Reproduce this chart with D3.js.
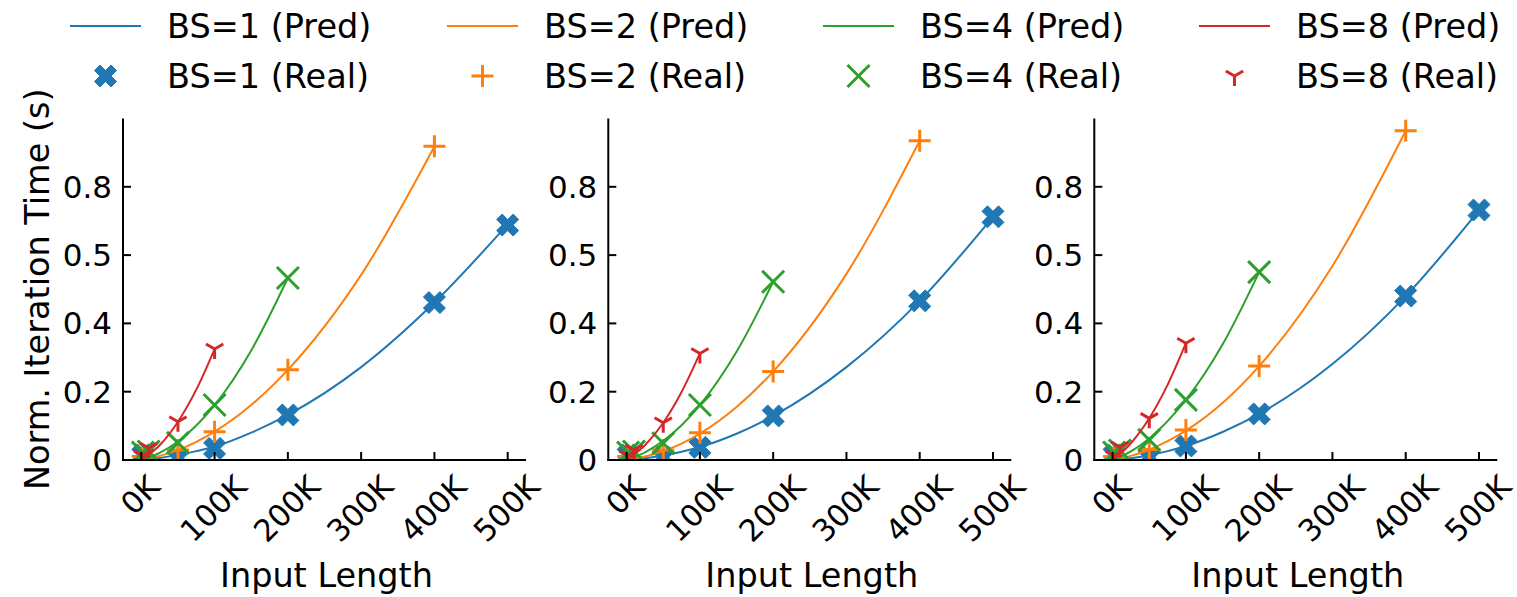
<!DOCTYPE html>
<html>
<head>
<meta charset="utf-8">
<script src="https://cdn.jsdelivr.net/npm/d3@7"></script>
<style>
  html, body { margin: 0; padding: 0; background: #fff; }
  svg { display: block; font-family: "DejaVu Sans", sans-serif; }
</style>
</head>
<body>
<svg id="chart" width="1517" height="597"></svg>
<script>
// ---- data ----
const batchSizes = [1, 2, 4, 8];
const colors = ["#1f77b4", "#ff7f0e", "#2ca02c", "#d62728"];
const markerKinds = ["Xfilled", "plus", "x", "tri"];

const xTicks = [0, 100, 200, 300, 400, 500];            // input length, K tokens
const xTickLabels = ["0K", "100K", "200K", "300K", "400K", "500K"];
const yTicks = [0, 0.2, 0.4, 0.6, 0.8];
const yTickLabels = ["0", "0.2", "0.4", "0.5", "0.8"];

// measured input lengths (K) per batch size
const realX = [
  [2, 50, 100, 200, 400, 500],
  [2, 50, 100, 200, 400],
  [2, 10, 50, 100, 200],
  [2, 10, 50, 100]
];
// predicted curve sample points (K)
const predX = [0, 25, 50, 75, 100, 150, 200, 300, 400, 500];

// measured times: [panel][batch]
const realPanel1 = [
  [0.015, 0.006, 0.034, 0.132, 0.461, 0.688],
  [0.010, 0.029, 0.083, 0.264, 0.919],
  [0.022, 0.025, 0.050, 0.161, 0.533],
  [0.012, 0.035, 0.112, 0.325]
];
const realPanel2 = [
  [0.015, 0.008, 0.037, 0.129, 0.466, 0.712],
  [0.010, 0.029, 0.080, 0.259, 0.935],
  [0.022, 0.025, 0.049, 0.161, 0.522],
  [0.012, 0.029, 0.109, 0.312]
];
const realPanel3 = [
  [0.015, 0.008, 0.041, 0.135, 0.480, 0.732],
  [0.010, 0.031, 0.088, 0.275, 0.964],
  [0.022, 0.028, 0.059, 0.176, 0.550],
  [0.012, 0.038, 0.122, 0.342]
];
// predicted times at predX: [panel][batch]
const predPanel1 = [
  [0, 0.006, 0.015, 0.026, 0.039, 0.080, 0.132, 0.272, 0.461, 0.690],
  [0, 0.012, 0.029, 0.053, 0.083, 0.161, 0.264, 0.542, 0.918],
  [0, 0.021, 0.054, 0.101, 0.161, 0.321, 0.533],
  [0, 0.043, 0.112, 0.206, 0.325]
];
const predPanel2 = [
  [0, 0.005, 0.013, 0.024, 0.038, 0.077, 0.129, 0.272, 0.466, 0.712],
  [0, 0.010, 0.026, 0.048, 0.077, 0.155, 0.259, 0.545, 0.935],
  [0, 0.022, 0.056, 0.102, 0.161, 0.317, 0.522],
  [0, 0.043, 0.109, 0.199, 0.312]
];
const predPanel3 = [
  [0, 0.005, 0.014, 0.026, 0.041, 0.082, 0.135, 0.281, 0.480, 0.731],
  [0, 0.012, 0.030, 0.055, 0.086, 0.167, 0.275, 0.568, 0.964],
  [0, 0.025, 0.063, 0.114, 0.176, 0.338, 0.550],
  [0, 0.049, 0.122, 0.220, 0.342]
];

const panels = [
  { left: 123,   real: realPanel1, pred: predPanel1 },
  { left: 608.3, real: realPanel2, pred: predPanel2 },
  { left: 1094.3, real: realPanel3, pred: predPanel3 }
];

// ---- layout ----
const svg = d3.select("#chart");
const plotTop = 118.5, plotBottom = 460, plotWidth = 403;
const tickFont = 30.5, labelFont = 33.5;

const y = d3.scaleLinear().domain([0, 1.0]).range([plotBottom, plotTop]);

// marker drawing
function drawMarker(g, kind, cx, cy, color) {
  if (kind === "Xfilled") {
    const s = 22 / 4;
    const pts = [[-1,-2],[0,-1],[1,-2],[2,-1],[1,0],[2,1],[1,2],[0,1],[-1,2],[-2,1],[-1,0],[-2,-1]]
      .map(p => [cx + p[0] * s, cy + p[1] * s]);
    g.append("path")
      .attr("d", "M" + pts.map(p => p.join(",")).join("L") + "Z")
      .attr("fill", color).attr("stroke", color).attr("stroke-width", 1)
      .attr("stroke-linejoin", "round");
  } else if (kind === "plus") {
    const r = 11;
    g.append("path")
      .attr("d", `M${cx - r},${cy}H${cx + r}M${cx},${cy - r}V${cy + r}`)
      .attr("stroke", color).attr("stroke-width", 3).attr("fill", "none");
  } else if (kind === "x") {
    const r = 11;
    g.append("path")
      .attr("d", `M${cx - r},${cy - r}L${cx + r},${cy + r}M${cx - r},${cy + r}L${cx + r},${cy - r}`)
      .attr("stroke", color).attr("stroke-width", 3).attr("fill", "none");
  } else if (kind === "tri") {
    const r = 10;
    const a = r * 0.866, b = r * 0.5;
    g.append("path")
      .attr("d", `M${cx},${cy}V${cy + r}M${cx},${cy}L${cx - a},${cy - b}M${cx},${cy}L${cx + a},${cy - b}`)
      .attr("stroke", color).attr("stroke-width", 3).attr("fill", "none");
  }
}

panels.forEach((p, pi) => {
  const x = d3.scaleLinear().domain([-25, 525]).range([p.left, p.left + plotWidth]);
  const g = svg.append("g");

  const clipId = "clip" + pi;
  svg.append("clipPath").attr("id", clipId)
    .append("rect")
    .attr("x", p.left).attr("y", plotTop - 20)
    .attr("width", plotWidth).attr("height", plotBottom - plotTop + 20);

  const data = g.append("g").attr("clip-path", `url(#${clipId})`);
  const line = d3.line().x(d => x(d[0])).y(d => y(d[1])).curve(d3.curveMonotoneX);

  batchSizes.forEach((bs, bi) => {
    const predPts = p.pred[bi].map((v, i) => [predX[i], v]);
    data.append("path")
      .attr("d", line(predPts))
      .attr("fill", "none")
      .attr("stroke", colors[bi])
      .attr("stroke-width", 2);
    const mk = data.append("g");
    p.real[bi].forEach((v, i) => {
      drawMarker(mk, markerKinds[bi], x(realX[bi][i]), y(v), colors[bi]);
    });
  });

  // spines
  g.append("line").attr("x1", p.left).attr("x2", p.left)
    .attr("y1", plotTop).attr("y2", plotBottom + 1)
    .attr("stroke", "#000").attr("stroke-width", 2);
  g.append("line").attr("x1", p.left - 1).attr("x2", p.left + plotWidth)
    .attr("y1", plotBottom).attr("y2", plotBottom)
    .attr("stroke", "#000").attr("stroke-width", 2);

  // y ticks (inward)
  yTicks.forEach((t, i) => {
    g.append("line").attr("x1", p.left).attr("x2", p.left + 8)
      .attr("y1", y(t)).attr("y2", y(t))
      .attr("stroke", "#000").attr("stroke-width", 2);
    g.append("text")
      .attr("x", p.left - 11).attr("y", y(t))
      .attr("text-anchor", "end").attr("dominant-baseline", "central")
      .attr("font-size", 31).attr("fill", "#000")
      .text(yTickLabels[i]);
  });

  // x ticks (inward) and rotated labels
  xTicks.forEach((t, i) => {
    const tx = x(t);
    g.append("line").attr("x1", tx).attr("x2", tx)
      .attr("y1", plotBottom).attr("y2", plotBottom - 8)
      .attr("stroke", "#000").attr("stroke-width", 2);
    const txt = g.append("text")
      .attr("text-anchor", "middle").attr("dominant-baseline", "central")
      .attr("font-size", tickFont).attr("fill", "#000")
      .text(xTickLabels[i]);
    const w = txt.node().getComputedTextLength();
    const h = tickFont * 0.75;
    const cy = plotBottom + 13 + (w + h) * Math.SQRT1_2 / 2;
    txt.attr("transform", `translate(${tx - 1},${cy}) rotate(-45)`);
  });

  // x axis label
  g.append("text")
    .attr("x", p.left + plotWidth / 2 + 2).attr("y", 587)
    .attr("text-anchor", "middle")
    .attr("font-size", labelFont).attr("fill", "#000")
    .text("Input Length");
});

// y axis label (first panel only)
svg.append("text")
  .attr("transform", `translate(37,${(plotTop + plotBottom) / 2}) rotate(-90)`)
  .attr("text-anchor", "middle").attr("dominant-baseline", "central")
  .attr("font-size", labelFont).attr("fill", "#000")
  .text("Norm. Iteration Time (s)");

// ---- legend: 4 columns, Pred on the first row, Real on the second ----
const legendCols = [70, 447, 823, 1199];
const legendRows = [26, 76];
batchSizes.forEach((bs, bi) => {
  const lx = legendCols[bi];
  const lg = svg.append("g");
  lg.append("line")
    .attr("x1", lx).attr("x2", lx + 71)
    .attr("y1", legendRows[0]).attr("y2", legendRows[0])
    .attr("stroke", colors[bi]).attr("stroke-width", 2);
  lg.append("text")
    .attr("x", lx + 97).attr("y", legendRows[0])
    .attr("dominant-baseline", "central")
    .attr("font-size", labelFont).attr("fill", "#000")
    .text(`BS=${bs} (Pred)`);
  drawMarker(lg, markerKinds[bi], lx + 35.5, legendRows[1], colors[bi]);
  lg.append("text")
    .attr("x", lx + 97).attr("y", legendRows[1])
    .attr("dominant-baseline", "central")
    .attr("font-size", labelFont).attr("fill", "#000")
    .text(`BS=${bs} (Real)`);
});
</script>
</body>
</html>
